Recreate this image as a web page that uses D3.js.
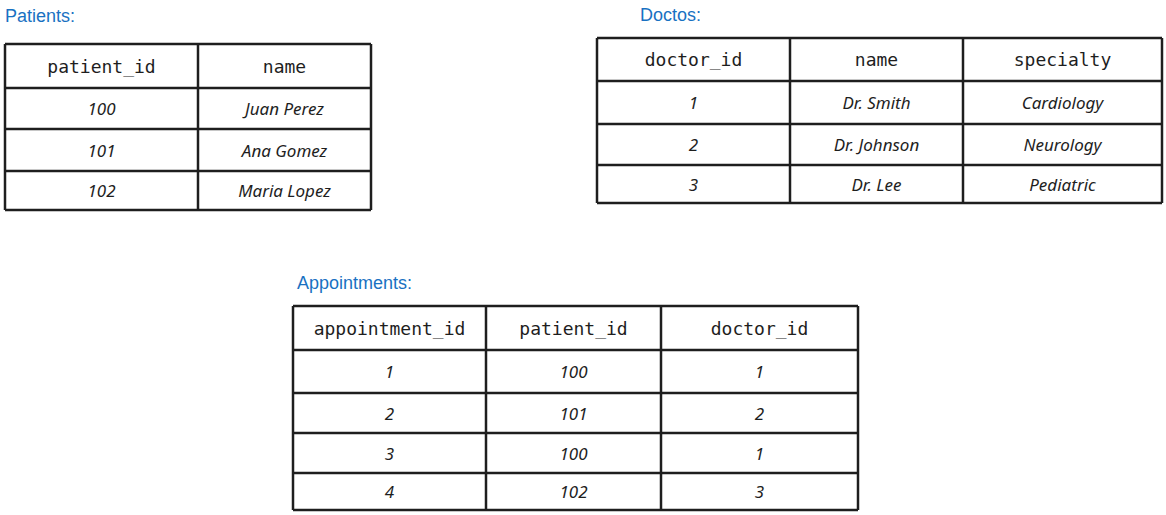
<!DOCTYPE html>
<html>
<head>
<meta charset="utf-8">
<script src="https://cdn.jsdelivr.net/npm/d3@7"></script>
<style>
body { margin:0; background:#fff; }
.title { font-family: "Liberation Sans", Arial, sans-serif; font-size:18px; fill:#1971c2; }
.head { font-family: "DejaVu Sans Mono", monospace; font-size:18px; fill:#1e1e1e; }
.cell { font-family: "Noto Sans", sans-serif; font-size:17px; fill:#1e1e1e; font-style:italic; }
</style>
</head>
<body>
<svg width="1166" height="515"></svg>
<script>
var patientCols = ["patient_id", "name"]
var patientRows = [["100", "Juan Perez"], ["101", "Ana Gomez"], ["102", "Maria Lopez"]]

var doctorCols = ["doctor_id", "name", "specialty"]
var doctorRows = [["1", "Dr. Smith", "Cardiology"], ["2", "Dr. Johnson", "Neurology"], ["3", "Dr. Lee", "Pediatric"]]

var apptCols = ["appointment_id", "patient_id", "doctor_id"]
var apptRows = [["1", "100", "1"], ["2", "101", "2"], ["3", "100", "1"], ["4", "102", "3"]]

var svg = d3.select("svg")

// layout of each table: title position, column edges, row edges
var tables = [
  {title:"Patients:", tx:5, ty:22, cols:patientCols, rows:patientRows,
   xEdges:[5,198,371], yEdges:[44,88,129,171,210]},
  {title:"Doctos:", tx:640, ty:21, cols:doctorCols, rows:doctorRows,
   xEdges:[597,790,963,1162], yEdges:[38,81,124,165,203]},
  {title:"Appointments:", tx:297, ty:289, cols:apptCols, rows:apptRows,
   xEdges:[293,486,661,858], yEdges:[306,350,393,433,473,510]}
]

tables.forEach(function(t)
{
  var g = svg.append("g")

  g.append("text").attr("class","title")
   .attr("x",t.tx).attr("y",t.ty).text(t.title)

  var x = d3.scaleOrdinal().domain(d3.range(t.cols.length + 1)).range(t.xEdges)
  var y = d3.scaleOrdinal().domain(d3.range(t.rows.length + 2)).range(t.yEdges)
  var x0 = x(0), x1 = x(t.cols.length), y0 = y(0), y1 = y(t.rows.length + 1)

  g.selectAll("line.h").data(d3.range(t.rows.length + 2)).enter().append("line")
   .attr("x1",x0).attr("x2",x1)
   .attr("y1",function(i){return y(i)}).attr("y2",function(i){return y(i)})
   .attr("stroke","#1e1e1e").attr("stroke-width",2.5)

  g.selectAll("line.v").data(d3.range(t.cols.length + 1)).enter().append("line")
   .attr("y1",y0).attr("y2",y1)
   .attr("x1",function(i){return x(i)}).attr("x2",function(i){return x(i)})
   .attr("stroke","#1e1e1e").attr("stroke-width",2.5)

  var cx = function(i){return (x(i) + x(i+1)) / 2}
  var cy = function(r){return (y(r) + y(r+1)) / 2}

  g.selectAll("text.head").data(t.cols).enter().append("text").attr("class","head")
   .attr("x",function(d,i){return cx(i)}).attr("y",cy(0))
   .attr("text-anchor","middle").attr("dominant-baseline","central").text(function(d){return d})

  t.rows.forEach(function(row, r)
  {
    g.selectAll("text.r"+r).data(row).enter().append("text").attr("class","cell")
     .attr("x",function(d,i){return cx(i)}).attr("y",cy(r+1))
     .attr("text-anchor","middle").attr("dominant-baseline","central").text(function(d){return d})
  })
})
</script>
</body>
</html>
